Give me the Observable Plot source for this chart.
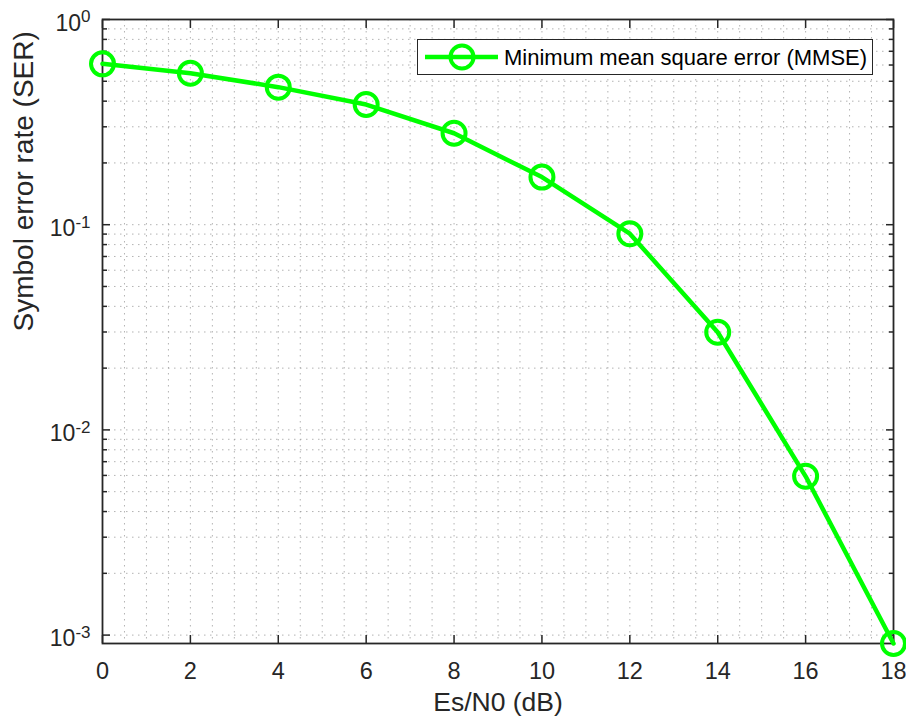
<!DOCTYPE html>
<html>
<head>
<meta charset="utf-8">
<script src="https://cdn.jsdelivr.net/npm/d3@7"></script>
<script src="https://cdn.jsdelivr.net/npm/@observablehq/plot@0.6"></script>
<style>
  html, body { margin: 0; padding: 0; background: #fff; }
  #wrap { position: relative; width: 906px; height: 722px; font-family: "Liberation Sans", Arial, Helvetica, sans-serif; }
  #legend { position: absolute; left: 417px; top: 39px; width: 454px; height: 34px; border: 1px solid #262626; background: #fff; }
  #legend svg { position: absolute; left: 0; top: 0; }
</style>
</head>
<body>
<div id="wrap"></div>
<script>
// ---- data ----
const esn0 = [0, 2, 4, 6, 8, 10, 12, 14, 16, 18];
const serMMSE = [0.608, 0.547, 0.468, 0.385, 0.279, 0.1706, 0.0904, 0.0299, 0.00594, 0.00091];
const seriesName = "Minimum mean square error (MMSE)";
const xTicks = [0, 2, 4, 6, 8, 10, 12, 14, 16, 18];
const yMajor = [1e-3, 1e-2, 1e-1, 1e0];
const yDomain = [0.00091, 1];
const xLabel = "Es/N0 (dB)";
const yLabel = "Symbol error rate (SER)";

const xGrid = d3.range(0, 18.01, 0.5);
const yMinor = [];
for (const dec of [1e-4, 1e-3, 1e-2, 1e-1]) for (let k = 2; k <= 9; k++) { const v = dec * k; if (v >= yDomain[0] && v <= 1) yMinor.push(v); }
const yGrid = yMajor.concat(yMinor);

const data = esn0.map((x, i) => ({x, y: serMMSE[i]}));
const green = "#00ff00";
const ink = "#262626";
const gridStyle = {stroke: "#9a9a9a", strokeOpacity: 0.75, strokeWidth: 1, strokeDasharray: "1.5,4.5"};

const chart = Plot.plot({
  width: 906,
  height: 722,
  marginLeft: 102,
  marginRight: 13,
  marginTop: 19,
  marginBottom: 79,
  style: {fontFamily: '"Liberation Sans", Arial, Helvetica, sans-serif', color: ink, background: "#fff"},
  x: {domain: [0, 18]},
  y: {type: "log", domain: yDomain},
  marks: [
    Plot.gridX(xGrid, gridStyle),
    Plot.gridY(yGrid, gridStyle),
    Plot.axisX(xTicks, {anchor: "bottom", tickSize: -8, fill: "none", stroke: ink, strokeWidth: 1.5, label: null}),
    Plot.axisX(xTicks, {anchor: "top", tickSize: -8, fill: "none", stroke: ink, strokeWidth: 1.5, label: null}),
    Plot.axisY(yMajor, {anchor: "left", tickSize: -8, fill: "none", stroke: ink, strokeWidth: 1.5, label: null}),
    Plot.axisY(yMajor, {anchor: "right", tickSize: -8, fill: "none", stroke: ink, strokeWidth: 1.5, label: null}),
    Plot.axisY(yMinor, {anchor: "left", tickSize: -5, fill: "none", stroke: ink, strokeWidth: 1.5, label: null}),
    Plot.axisY(yMinor, {anchor: "right", tickSize: -5, fill: "none", stroke: ink, strokeWidth: 1.5, label: null}),
    Plot.frame({stroke: ink, strokeWidth: 1.8}),
    Plot.text(xTicks, {x: d => d, frameAnchor: "bottom", lineAnchor: "top", dy: 19, fontSize: 23.5, fill: ink, text: d => String(d)}),
    Plot.text(yMajor, {y: d => d, frameAnchor: "left", textAnchor: "end", lineAnchor: "middle", dx: -12, dy: 4, fontSize: 23, fill: ink, text: d => "10^" + Math.round(Math.log10(d)), className: "ylab"}),
    Plot.text([xLabel], {frameAnchor: "bottom", lineAnchor: "middle", dy: 59, fontSize: 26.5, fill: ink, text: d => d}),
    Plot.text([yLabel], {frameAnchor: "left", rotate: -90, lineAnchor: "middle", dx: -78, fontSize: 28, fill: ink, text: d => d}),
    Plot.line(data, {x: "x", y: "y", stroke: green, strokeWidth: 4.5}),
    Plot.dot(data, {x: "x", y: "y", r: 11.5, stroke: green, strokeWidth: 4, fill: "none"})
  ]
});

// turn "10^k" labels into real superscripts
d3.select(chart).selectAll("g.ylab text").each(function() {
  const t = d3.select(this);
  const [base, exp] = t.text().split("^");
  t.text(null);
  t.append("tspan").text(base);
  t.append("tspan").attr("dy", "-0.5em").attr("font-size", 17).text(exp);
});

const wrap = document.getElementById("wrap");
wrap.appendChild(chart);

// legend built from the same series name and colour
const legend = document.createElement("div");
legend.id = "legend";
wrap.appendChild(legend);
const ls = d3.select(legend).append("svg").attr("width", 454).attr("height", 34);
ls.append("line").attr("x1", 7).attr("x2", 80).attr("y1", 17).attr("y2", 17).attr("stroke", green).attr("stroke-width", 4.5);
ls.append("circle").attr("cx", 44).attr("cy", 17).attr("r", 11.5).attr("fill", "none").attr("stroke", green).attr("stroke-width", 4);
ls.append("text").attr("x", 86).attr("y", 17).attr("dy", "0.35em").attr("font-size", 22).attr("fill", "#000")
  .attr("font-family", '"Liberation Sans", Arial, Helvetica, sans-serif').text(seriesName);
</script>
</body>
</html>
